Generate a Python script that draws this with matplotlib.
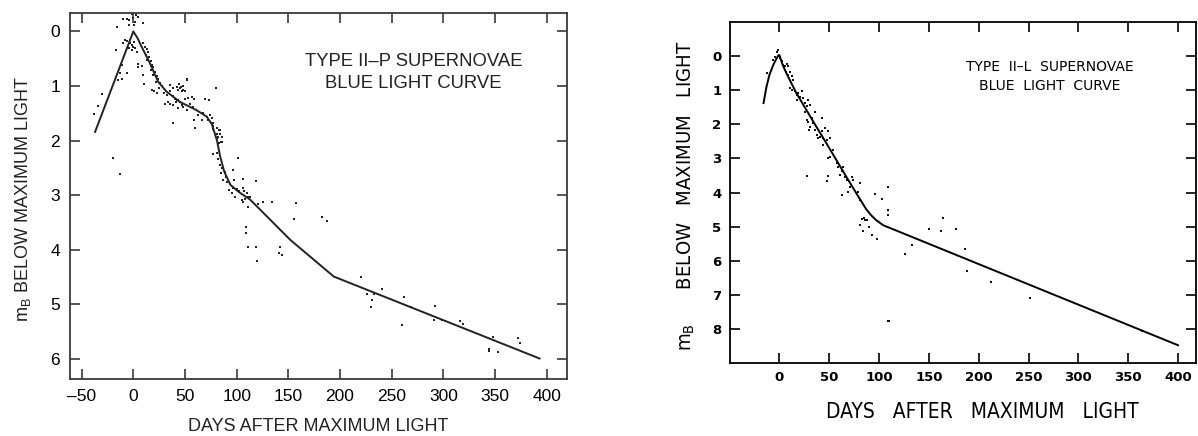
import matplotlib
matplotlib.use("Agg")
import matplotlib.pyplot as plt
import numpy as np

# ---- Type II-P (left panel) ----
p_curve_days = [-37, 0, 4, 8, 16, 24, 32, 45, 61, 71, 76, 81, 84, 88, 94, 102, 113, 152, 194, 393]
p_curve_mag = [1.84, 0.0, 0.12, 0.28, 0.58, 0.92, 1.10, 1.29, 1.44, 1.56, 1.70, 2.0, 2.29, 2.57,
               2.81, 2.94, 3.08, 3.82, 4.49, 5.99]

p_obs_days = [
    -9.7, -6.5, -3.9, 0, 1.6, 4.8, 9.7, -15.7, -3.9, 2.2, -1.0, 1.0,
    -8.1, -6.5, -3.2, -1.6, 0, 1.6, -1.6, 3.2, -3.9, -9.7, 0.5,
    -16.7, -11.3, -12.9, -15.2, -10.6, -5.8, -30.6, -33.8, -38.0, -19.7, -13.1,
    9.7, 11.3, 12.9, 14.5, 12.3, 15.5, 13.5, 16.8, 17.7, 19.4, 17.4, 21.0, 19.4, 22.6,
    24.2, 21.9, 25.8, 27.7, 25.2, 17.7, 20.0, 23.2, 29.7, 8.1, 9.0, 10.3, 4.8, 4.2,
    35.5, 38.7, 41.9, 45.2, 43.5, 46.8, 48.4, 51.6, 35.5, 32.3, 38.7, 40.3, 41.9, 30.6,
    33.9, 35.5, 38.7, 41.3, 43.5, 45.2, 46.8, 48.4, 43.5, 50.0, 53.2, 56.5, 58.7, 54.8,
    57.4, 51.6, 38.0, 59.0, 62.9, 66.0, 69.4, 73.2, 79.7, 67.7, 71.0, 72.6, 74.2, 75.8,
    76.8, 77.4, 80.6, 83.2, 83.9, 85.5, 80.6, 84.8, 59.7, 44.0, 46.0, 48.0, 49.6, 52.0,
    77.4, 80.6, 83.9, 82.3, 85.5, 83.2, 76.8, 80.6, 82.3, 83.9, 85.5, 84.5, 88.7, 89.7,
    87.0, 91.0, 96.1, 101.0, 97.4, 93.0, 96.8, 95.2, 100.0, 102.6, 98.4, 105.8, 107.0,
    109.7, 111.3, 112.9, 108.0, 104.8, 105.8, 111.3, 106.5, 118.7, 121.0, 125.2, 133.9,
    157.4, 155.5, 108.7, 108.7, 182.3, 187.0, 110.5, 119.0, 119.7, 141.9, 143.7, 140.6,
    220.0, 226.5, 232.9, 231.0, 230.3, 240.6, 261.9, 259.7, 268.4, 292.0, 291.0, 298.4,
    316.1, 319.4, 347.7, 344.2, 344.2, 353.2, 372.0, 374.2,
]
p_obs_mag = [
    -0.23, -0.23, -0.21, -0.24, -0.18, -0.27, -0.15, -0.09, -0.12, -0.30, -0.32, -0.12,
    0.15, 0.18, 0.22, 0.25, 0.28, 0.31, 0.34, 0.37, 0.30, 0.22, 0.20,
    0.34, 0.61, 0.77, 0.89, 0.87, 0.77, 1.15, 1.37, 1.51, 2.31, 2.62,
    0.22, 0.28, 0.33, 0.37, 0.43, 0.46, 0.52, 0.55, 0.62, 0.66, 0.71, 0.74, 0.80, 0.82,
    0.88, 0.92, 0.95, 1.00, 1.04, 1.07, 1.10, 1.12, 1.12, 0.63, 0.80, 0.96, 0.59, 0.65,
    0.98, 1.04, 1.01, 1.04, 1.07, 1.10, 1.07, 0.89, 1.10, 1.16, 1.18, 1.23, 1.26, 1.32,
    1.30, 1.33, 1.35, 1.29, 1.26, 1.30, 1.35, 1.39, 1.41, 1.23, 1.21, 1.20, 1.23, 1.32,
    1.38, 1.44, 1.68, 1.62, 1.53, 1.62, 1.23, 1.26, 1.04, 1.50, 1.56, 1.62, 1.53, 1.59,
    1.68, 1.74, 1.77, 1.80, 1.87, 1.93, 1.96, 2.02, 1.77, 0.97, 1.02, 1.00, 1.09, 0.88,
    1.78, 1.87, 1.81, 1.93, 2.02, 2.05, 2.25, 2.23, 2.34, 2.45, 2.51, 2.60, 2.57, 2.66,
    2.72, 2.75, 2.54, 2.31, 2.72, 2.90, 2.87, 2.96, 2.89, 2.93, 3.03, 2.86, 2.93,
    2.95, 3.04, 3.03, 3.06, 3.09, 3.12, 3.22, 2.70, 2.74, 3.16, 3.12, 3.12,
    3.14, 3.44, 3.59, 3.69, 3.40, 3.47, 3.95, 3.94, 4.21, 3.95, 4.09, 4.05,
    4.50, 4.81, 4.81, 4.91, 5.05, 4.71, 4.87, 5.38, 5.04, 5.02, 5.29, 5.29,
    5.31, 5.36, 5.59, 5.82, 5.85, 5.87, 5.62, 5.70,
]

# ---- Type II-L (right panel) ----
l_curve_days = [-16, -13, -10, -6, -3, -1, 0, 3, 7, 17, 27, 37, 47, 57, 67, 77, 87, 92, 97, 104, 400]
l_curve_mag = [1.38, 0.90, 0.55, 0.25, 0.08, -0.02, -0.02, 0.25, 0.51, 1.09, 1.58, 2.07, 2.55,
               3.04, 3.53, 4.01, 4.48, 4.66, 4.80, 4.95, 8.46]

l_obs_days = [
    -1.2, -2.9, -4.5, -6.2, 0.5, 2.2, -12.2, 3.8, 5.5, 7.2, 8.8, 6.5, 8.8, 10.5, 12.2,
    13.9, 10.5, 12.2, 15.5, 17.2, 18.9, 20.6, 17.9, 22.2, 23.9, 25.6, 27.3, 28.9, 30.6,
    25.6, 27.3, 28.9, 30.6, 29.9, 32.3, 35.6, 33.9, 35.6, 37.3, 39.0, 40.6, 42.3, 44.0,
    42.3, 45.7, 49.0, 47.3, 50.7, 44.0, 49.0, 50.7, 54.0, 57.4, 59.0, 64.1, 62.4, 60.7,
    65.7, 67.4, 72.4, 74.1, 70.8, 79.1, 69.1, 62.4, 27.3, 49.0, 47.3, 80.8, 109.3, 95.9,
    102.6, 108.6, 109.3, 84.8, 87.5,
    80.8, 82.5, 85.8, 80.8, 84.2, 90.2, 92.9, 97.6, 110.0, 109.0, 125.5, 133.3, 149.7,
    162.5, 164.2, 177.3, 186.4, 188.1, 212.3, 251.0, 364.3,
]
l_obs_mag = [
    -0.18, -0.10, 0.02, 0.12, 0.07, 0.14, 0.51, 0.26, 0.31, 0.23, 0.29, 0.46, 0.56, 0.46,
    0.60, 0.70, 0.95, 0.99, 1.04, 1.14, 1.09, 1.19, 1.29, 1.04, 1.24, 1.38, 1.48, 1.29,
    1.43, 1.63, 1.87, 1.92, 2.07, 2.16, 1.82, 1.63, 1.97, 2.16, 2.31, 2.41, 2.36, 2.21,
    2.41, 1.82, 2.12, 2.21, 2.46, 2.41, 2.60, 2.99, 2.96, 2.75, 3.14, 3.24, 3.24, 3.38,
    3.48, 3.53, 3.63, 3.53, 3.63, 3.82, 3.97, 3.97, 4.06, 3.51, 3.51, 3.65, 4.21, 3.82,
    4.04, 4.19, 4.50, 4.65, 4.75, 4.80,
    3.73, 4.76, 4.79, 4.95, 5.13, 5.00, 5.25, 5.35, 7.74, 7.76, 5.79, 5.54, 5.07,
    5.13, 4.75, 5.07, 5.65, 6.30, 6.60, 7.07, 8.04,
]

fig = plt.figure(figsize=(11.98, 4.36), dpi=100)
sans = ["Liberation Sans", "DejaVu Sans"]

# left panel
ax1 = fig.add_axes([0.0584, 0.1307, 0.4149, 0.8394])
edge = "#3a3a3a"
ax1.plot(p_curve_days, p_curve_mag, color="#222222", lw=1.4)
ax1.scatter(p_obs_days, p_obs_mag, s=2.5, color="#222222", marker="s", linewidths=0)
ax1.set_xlim(-61.3, 419.6)
ax1.set_ylim(6.366, -0.337)
ax1.set_xticks(np.arange(-50, 401, 50))
ax1.set_xticklabels(["\u201350"] + [str(v) for v in range(0, 401, 50)])
ax1.set_yticks(range(0, 7))
for s in ax1.spines.values():
    s.set_color(edge)
    s.set_linewidth(1.3)
ax1.tick_params(direction="in", length=7, width=1.2, color=edge, top=True, right=True,
                labelsize=12.5, pad=7)
for lab in ax1.get_xticklabels() + ax1.get_yticklabels():
    lab.set_family(sans)
ax1.text(271, 0.76, "TYPE II\u2013P SUPERNOVAE\nBLUE LIGHT CURVE", ha="center", va="center",
         fontsize=13.3, family=sans, linespacing=1.38, color="#222222")
fig.text(0.2654, 0.021, "DAYS AFTER MAXIMUM LIGHT", ha="center", va="center", fontsize=13,
         family=sans, color="#222222")
fig.text(0.019, 0.5424, r"$\mathregular{m_B}$ BELOW MAXIMUM LIGHT", ha="center", va="center",
         rotation=90, fontsize=13, family=sans, color="#222222")

# right panel
ax2 = fig.add_axes([0.6093, 0.1674, 0.3890, 0.7821])
ax2.plot(l_curve_days, l_curve_mag, color="black", lw=1.4)
ax2.scatter(l_obs_days, l_obs_mag, s=2.5, color="#111111", marker="s", linewidths=0)
ax2.set_xlim(-49.7, 418)
ax2.set_ylim(8.98, -0.99)
ax2.set_xticks(np.arange(0, 401, 50))
ax2.set_yticks(range(0, 9))
for s in ax2.spines.values():
    s.set_color("black")
    s.set_linewidth(1.3)
ax2.tick_params(direction="in", length=7, width=1.2, top=True, right=True, labelsize=9.5, pad=6)
for lab in ax2.get_xticklabels() + ax2.get_yticklabels():
    lab.set_fontweight("bold")
ax2.text(271, 0.6, "TYPE  II\u2013L  SUPERNOVAE\nBLUE  LIGHT  CURVE", ha="center", va="center",
         fontsize=10, linespacing=1.45)
fig.text(0.8197, 0.055, "DAYS   AFTER   MAXIMUM   LIGHT", ha="center", va="center",
         fontsize=15, fontstretch="condensed")
fig.text(0.5726, 0.5505, r"$\mathregular{m_B}$      BELOW   MAXIMUM   LIGHT", ha="center",
         va="center", rotation=90, fontsize=14.6, fontstretch="condensed")

fig.savefig("out.png", dpi=100)
